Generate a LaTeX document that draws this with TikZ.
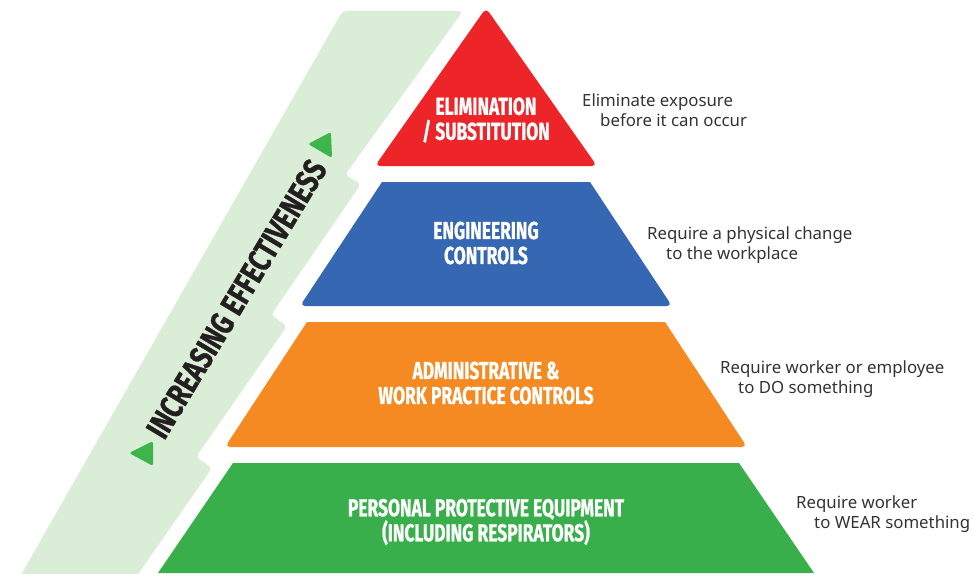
\documentclass[tikz,border=0pt]{standalone}
\usepackage{fontspec}
\setmainfont{Liberation Sans}
\newfontfamily\headfont[FakeStretch=0.71,FakeBold=0.8]{Fira Sans}
\newfontfamily\bandfont[FakeStretch=0.77,FakeBold=0.8]{Fira Sans}
\newfontfamily\notefont{Noto Sans}
\definecolor{cred}{HTML}{ED2529}
\definecolor{cblue}{HTML}{3567B2}
\definecolor{corange}{HTML}{F68A22}
\definecolor{cgreen}{HTML}{39AF4B}
\definecolor{cband}{HTML}{DAEDD6}
\definecolor{carrow}{HTML}{3EB54A}
\definecolor{cink}{HTML}{231F20}
\definecolor{cnote}{HTML}{333333}
\tikzset{
  head/.style={text=white,align=center,font=\headfont\bfseries\fontsize{24.5pt}{25pt}\selectfont,inner sep=0pt},
  note/.style={text=cnote,align=left,anchor=north west,font=\notefont\fontsize{16.8pt}{20.5pt}\selectfont,inner sep=0pt},
}
\begin{document}
\begin{tikzpicture}[x=1pt,y=-1pt]
\useasboundingbox (0,0) rectangle (974,573);
\clip (0,0) rectangle (974,573);
% band
\fill[cband,rounded corners=4pt] (342.5,11) -- (463,11) -- (345,175) -- (361,184) -- (271,315) -- (287,326) -- (196,457) -- (212,468) -- (134,580) -- (18,580) -- cycle;
% pyramid
\fill[cred,rounded corners=5pt] (486,8) -- (597,166) -- (375,166) -- cycle;
\fill[cblue] (382,182) [sharp corners] -- (590,182) [rounded corners=5pt] -- (672,306) -- (300,306) [sharp corners] -- cycle;
\fill[corange] (307,322) [sharp corners] -- (665,322) [rounded corners=5pt] -- (747,447) -- (225,447) [sharp corners] -- cycle;
\fill[cgreen] (233,463) -- (739,463) -- (814,573) -- (158,573) -- cycle;
% arrows
\fill[carrow,rounded corners=2.5pt] (308,144) -- (331,132) -- (332,158) -- cycle;
\fill[carrow,rounded corners=2.5pt] (129,453) -- (153,441) -- (153,466) -- cycle;
% titles
\node[head] (t1) at (486,120) {ELIMINATION\\/ SUBSTITUTION};
\node[head] (t2) at (486,243) {ENGINEERING\\CONTROLS};
\node[head] (t3) at (486,383) {ADMINISTRATIVE \&\\WORK PRACTICE CONTROLS};
\node[head] (t4) at (486,522) {PERSONAL PROTECTIVE EQUIPMENT\\(INCLUDING RESPIRATORS)};
\node[text=cink,inner sep=0pt,rotate=59,font=\bandfont\bfseries\fontsize{33pt}{33pt}\selectfont] (t5) at (236.5,299) {INCREASING EFFECTIVENESS};
% notes
\node[note] (n1) at (582,93.5) {Eliminate exposure\\\hspace*{18pt}before it can occur};
\node[note] (n2) at (647,226.5) {Require a physical change\\\hspace*{19pt}to the workplace};
\node[note] (n3) at (720,360.5) {Require worker or employee\\\hspace*{18pt}to DO something};
\node[note] (n4) at (796,495.5) {Require worker\\\hspace*{18pt}to WEAR something};
\end{tikzpicture}
\end{document}
